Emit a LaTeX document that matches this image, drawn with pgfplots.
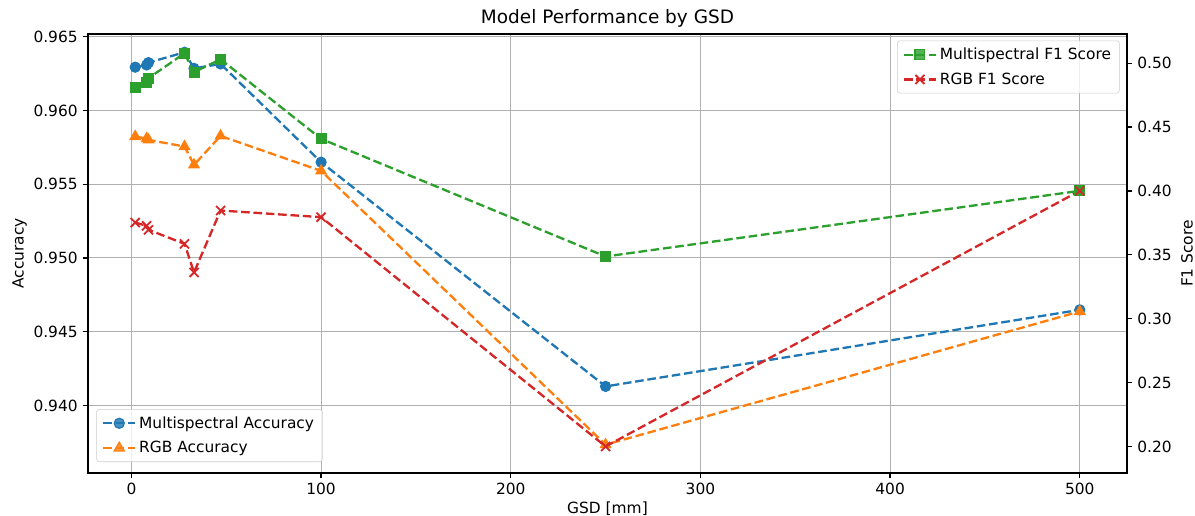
\documentclass[border=0pt]{standalone}
\usepackage{fontspec}
\setmainfont{DejaVu Sans}
\usepackage{pgfplots}
\usepackage{pgfplotstable}
\pgfplotsset{compat=1.18}
\definecolor{tabblue}{HTML}{1F77B4}
\definecolor{taborange}{HTML}{FF7F0E}
\definecolor{tabgreen}{HTML}{2CA02C}
\definecolor{tabred}{HTML}{D62728}
\definecolor{gridgray}{HTML}{B0B0B0}

\pgfplotstableread{
x y
2 0.96293
8 0.96308
9 0.96324
28 0.96394
33 0.96285
47 0.96315
100 0.95649
250 0.94129
500 0.94648
}\msacc
\pgfplotstableread{
x y
2 0.95823
8 0.95809
9 0.95800
28 0.95755
33 0.95631
47 0.95827
100 0.9559
250 0.93734
500 0.94637
}\rgbacc
\pgfplotstableread{
x y
2 0.4809
8 0.4848
9 0.4883
28 0.5078
33 0.4930
47 0.5031
100 0.4408
250 0.3487
500 0.4001
}\msfone
\pgfplotstableread{
x y
2 0.3753
8 0.3727
9 0.3696
28 0.3586
33 0.3362
47 0.3847
100 0.3795
250 0.2000
500 0.4001
}\rgbfone

\pgfplotsset{
  common/.style={
    scale only axis,
    width=748.08pt, height=316.08pt,
    at={(0,0)}, anchor=south west,
    xmin=-22.9, xmax=524.9,
    tick align=outside,
    major tick length=3.9pt,
    tick style={black, line width=0.9pt},
    axis line style={black, line width=0.9pt},
    /pgf/number format/assume math mode=true,
    ticklabel style={font=\fontsize{11.1}{13}\selectfont},
    label style={font=\fontsize{11.1}{13}\selectfont},
    scaled y ticks=false,
    legend cell align=left,
    legend image code/.code={\draw[mark repeat=2, mark phase=2] plot coordinates {(0pt,0pt) (11.5pt,0pt) (23pt,0pt)};},
    legend style={font=\fontsize{11.1}{13}\selectfont, draw=black!20, rounded corners=2pt,
      fill=white, fill opacity=0.8, text opacity=1, row sep=4pt, inner xsep=4pt, inner ysep=3pt},
  },
  ser/.style={#1, line width=1.67pt, dash pattern=on 6.2pt off 2.7pt},
}

\begin{document}
\begin{tikzpicture}
\path[use as bounding box] (-63.36pt,-30.96pt) rectangle (797.04pt,340.56pt);
\begin{axis}[common,
  xtick={0,100,200,300,400,500},
  xtick pos=bottom, ytick pos=left,
  ymin=0.93542, ymax=0.96518,
  ytick={0.940,0.945,0.950,0.955,0.960,0.965},
  yticklabel style={/pgf/number format/.cd, fixed, fixed zerofill, precision=3},
  grid=major, grid style={gridgray, line width=0.75pt},
  xlabel={GSD [mm]}, ylabel={Accuracy},
  xlabel style={yshift=2pt},
  ylabel style={yshift=-2pt},
  title={Model Performance by GSD},
  title style={font=\fontsize{13.3}{15}\selectfont, yshift=-4.5pt},
  legend style={at={(0.008,0.025)}, anchor=south west},
]
\addplot[ser=tabblue, mark=*, mark size=3.6pt, mark options={solid, fill=tabblue, draw=tabblue, line width=0.9pt}] table[x=x,y=y] {\msacc};
\addlegendentry{Multispectral Accuracy}
\addplot[ser=taborange, mark=triangle*, mark size=4.2pt, mark options={solid, fill=taborange, draw=taborange, line width=0.9pt}] table[x=x,y=y] {\rgbacc};
\addlegendentry{RGB Accuracy}
\end{axis}
\begin{axis}[common,
  axis x line=none, axis y line*=right,
  ymin=0.1792, ymax=0.5229,
  ytick={0.20,0.25,0.30,0.35,0.40,0.45,0.50},
  yticklabel style={/pgf/number format/.cd, fixed, fixed zerofill, precision=2},
  ylabel={F1 Score},
  legend style={at={(0.993,0.985)}, anchor=north east},
]
\addplot[ser=tabgreen, mark=square*, mark size=3.5pt, mark options={solid, fill=tabgreen, draw=tabgreen, line width=0.9pt}] table[x=x,y=y] {\msfone};
\addlegendentry{Multispectral F1 Score}
\addplot[ser=tabred, mark=x, mark size=4.6pt, mark options={solid, draw=tabred, line width=1.3pt}] table[x=x,y=y] {\rgbfone};
\addlegendentry{RGB F1 Score}
\end{axis}
\end{tikzpicture}
\end{document}
